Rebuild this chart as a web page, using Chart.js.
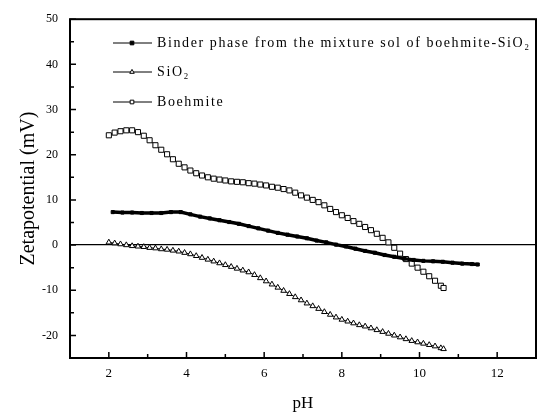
<!DOCTYPE html>
<html>
<head>
<meta charset="utf-8">
<script src="https://cdn.jsdelivr.net/npm/chart.js@4.4.1/dist/chart.umd.min.js"></script>
<style>
  html, body { margin: 0; padding: 0; background: #fff; }
  #wrap { width: 541px; height: 416px; position: relative; }
</style>
</head>
<body>
<div id="wrap"><canvas id="chart"></canvas></div>
<script>
// Eixo x / eixo y
const xTicks = [2, 4, 6, 8, 10, 12];
const yTicks = [-20, -10, 0, 10, 20, 30, 40, 50];

const seriesLabels = [
    'Binder phase from the mixture sol of boehmite-SiO₂',
    'SiO₂',
    'Boehmite'
];

// Binder phase (quadrados cheios)
const binderPH = [2.1, 2.35, 2.6, 2.85, 3.1, 3.35, 3.6, 3.85, 4.1, 4.35, 4.6, 4.85, 5.1, 5.35, 5.6, 5.85,
    6.1, 6.35, 6.6, 6.85, 7.1, 7.35, 7.6, 7.85, 8.1, 8.35, 8.6, 8.85, 9.1, 9.35, 9.6, 9.85, 10.1, 10.35,
    10.6, 10.85, 11.1, 11.35, 11.5];
const binderZeta = [7.3, 7.2, 7.2, 7.1, 7.1, 7.1, 7.3, 7.3, 6.8, 6.3, 5.9, 5.5, 5.1, 4.7, 4.2, 3.7,
    3.2, 2.7, 2.3, 1.9, 1.5, 1.0, 0.6, 0.1, -0.3, -0.8, -1.3, -1.7, -2.2, -2.6, -3.0, -3.3, -3.5, -3.6,
    -3.7, -3.9, -4.1, -4.2, -4.3];

// SiO2 (triangulos)
const sio2PH = [2.0, 2.15, 2.3, 2.45, 2.6, 2.75, 2.9, 3.05, 3.2, 3.35, 3.5, 3.65, 3.8, 3.95, 4.1, 4.25,
    4.4, 4.55, 4.7, 4.85, 5.0, 5.15, 5.3, 5.45, 5.6, 5.75, 5.9, 6.05, 6.2, 6.35, 6.5, 6.65, 6.8, 6.95,
    7.1, 7.25, 7.4, 7.55, 7.7, 7.85, 8.0, 8.15, 8.3, 8.45, 8.6, 8.75, 8.9, 9.05, 9.2, 9.35, 9.5, 9.65,
    9.8, 9.95, 10.1, 10.25, 10.4, 10.55, 10.62];
const sio2Zeta = [0.6, 0.4, 0.2, 0.0, -0.2, -0.3, -0.4, -0.6, -0.7, -0.9, -1.0, -1.2, -1.4, -1.7, -2.0, -2.4,
    -2.8, -3.2, -3.6, -4.0, -4.4, -4.8, -5.2, -5.6, -6.0, -6.6, -7.3, -8.0, -8.7, -9.4, -10.1, -10.8, -11.5, -12.2,
    -12.9, -13.5, -14.1, -14.8, -15.4, -16.0, -16.5, -16.9, -17.3, -17.7, -18.0, -18.4, -18.8, -19.2, -19.6, -20.0, -20.4, -20.8,
    -21.2, -21.5, -21.8, -22.1, -22.4, -22.8, -23.0];

// Boehmite (quadrados vazios)
const boehmitePH = [2.0, 2.15, 2.3, 2.45, 2.6, 2.75, 2.9, 3.05, 3.2, 3.35, 3.5, 3.65, 3.8, 3.95, 4.1, 4.25,
    4.4, 4.55, 4.7, 4.85, 5.0, 5.15, 5.3, 5.45, 5.6, 5.75, 5.9, 6.05, 6.2, 6.35, 6.5, 6.65, 6.8, 6.95,
    7.1, 7.25, 7.4, 7.55, 7.7, 7.85, 8.0, 8.15, 8.3, 8.45, 8.6, 8.75, 8.9, 9.05, 9.2, 9.35, 9.5, 9.65,
    9.8, 9.95, 10.1, 10.25, 10.4, 10.55, 10.62];
const boehmiteZeta = [24.3, 24.9, 25.2, 25.4, 25.4, 25.0, 24.2, 23.2, 22.1, 21.1, 20.1, 19.0, 18.0, 17.2, 16.5, 15.9,
    15.4, 15.0, 14.7, 14.5, 14.3, 14.1, 14.0, 13.9, 13.7, 13.6, 13.4, 13.2, 12.9, 12.7, 12.4, 12.1, 11.6, 11.0,
    10.5, 10.0, 9.5, 8.8, 8.0, 7.3, 6.6, 6.0, 5.3, 4.7, 4.0, 3.3, 2.5, 1.6, 0.6, -0.6, -1.9, -3.1,
    -4.1, -5.0, -5.9, -6.9, -7.9, -9.0, -9.5];

function toPoints(xs, ys) {
    return xs.map((x, i) => ({ x: x, y: ys[i] }));
}

const serif = "'Liberation Serif', 'DejaVu Serif', serif";

// Moldura, ticks internos, legenda
const framePlugin = {
    id: 'frame',
    afterDraw(chart) {
        const ctx = chart.ctx;
        const a = chart.chartArea;
        const xs = chart.scales.x;
        const ys = chart.scales.y;
        ctx.save();
        ctx.strokeStyle = '#000';
        ctx.lineWidth = 2;
        ctx.strokeRect(a.left, a.top, a.right - a.left, a.bottom - a.top);

        ctx.lineWidth = 1.5;
        ctx.beginPath();
        for (let v = 1; v <= 13; v++) {
            const px = xs.getPixelForValue(v);
            const len = v % 2 === 0 ? 6 : 4;
            ctx.moveTo(px, a.bottom);
            ctx.lineTo(px, a.bottom - len);
        }
        for (let v = -25; v <= 50; v += 5) {
            const py = ys.getPixelForValue(v);
            const len = v % 10 === 0 ? 6 : 4;
            ctx.moveTo(a.left, py);
            ctx.lineTo(a.left + len, py);
        }
        ctx.stroke();

        // legenda
        const rows = [43, 72, 102];
        chart.data.datasets.forEach((ds, i) => {
            const y = rows[i];
            ctx.strokeStyle = '#000';
            ctx.lineWidth = 1;
            ctx.beginPath();
            ctx.moveTo(113, y);
            ctx.lineTo(152, y);
            ctx.stroke();
            ctx.fillStyle = ds.pointBackgroundColor;
            ctx.strokeStyle = '#000';
            ctx.lineWidth = 1;
            Chart.helpers.drawPoint(ctx, {
                pointStyle: ds.pointStyle,
                radius: 2.6,
                borderWidth: 1
            }, 132, y);
            ctx.fillStyle = '#000';
            ctx.font = '14px ' + serif;
            ctx.textBaseline = 'middle';
            ctx.textAlign = 'left';
            if ('letterSpacing' in ctx) ctx.letterSpacing = '1.6px';
            ctx.fillText(ds.label, 157, y);
            if ('letterSpacing' in ctx) ctx.letterSpacing = '0px';
        });
        ctx.restore();
    }
};

const ctx = document.getElementById('chart').getContext('2d');
new Chart(ctx, {
    type: 'scatter',
    data: {
        datasets: [
            {
                label: seriesLabels[0],
                data: toPoints(binderPH, binderZeta),
                showLine: true,
                borderColor: '#000',
                borderWidth: 3.5,
                pointStyle: 'rect',
                pointRadius: 2.2,
                pointBackgroundColor: '#000',
                pointBorderColor: '#000',
                pointBorderWidth: 1
            },
            {
                label: seriesLabels[1],
                data: toPoints(sio2PH, sio2Zeta),
                showLine: true,
                borderColor: '#000',
                borderWidth: 1,
                pointStyle: 'triangle',
                pointRadius: 3.2,
                pointBackgroundColor: '#fff',
                pointBorderColor: '#000',
                pointBorderWidth: 1
            },
            {
                label: seriesLabels[2],
                data: toPoints(boehmitePH, boehmiteZeta),
                showLine: true,
                borderColor: '#000',
                borderWidth: 1,
                pointStyle: 'rect',
                pointRadius: 3.6,
                pointBackgroundColor: '#fff',
                pointBorderColor: '#000',
                pointBorderWidth: 1
            }
        ]
    },
    options: {
        responsive: true,
        maintainAspectRatio: false,
        animation: false,
        layout: { padding: { left: 0, right: 4, top: 13, bottom: 0 } },
        plugins: {
            legend: { display: false },
            tooltip: { enabled: false }
        },
        scales: {
            x: {
                type: 'linear',
                min: 1,
                max: 13,
                afterBuildTicks: axis => { axis.ticks = xTicks.map(v => ({ value: v })); },
                afterFit: axis => { axis.height = 58; },
                grid: { display: false, drawTicks: false },
                border: { display: false },
                ticks: { color: '#000', padding: 8, font: { family: serif, size: 13 } },
                title: { display: true, text: 'pH', color: '#000', font: { family: serif, size: 17 }, padding: { top: 0, bottom: 2 } }
            },
            y: {
                type: 'linear',
                min: -25,
                max: 50,
                afterBuildTicks: axis => { axis.ticks = yTicks.map(v => ({ value: v })); },
                afterFit: axis => { axis.width = 70; },
                grid: {
                    drawTicks: false,
                    lineWidth: 1.3,
                    color: c => (c.tick && c.tick.value === 0) ? '#000' : 'rgba(0,0,0,0)'
                },
                border: { display: false },
                ticks: { color: '#000', padding: 12, font: { family: serif, size: 12 } },
                title: { display: true, text: 'Zetapotential (mV)', color: '#000', font: { family: serif, size: 20 }, padding: { top: 17, bottom: 0 } }
            }
        }
    },
    plugins: [framePlugin]
});
</script>
</body>
</html>
